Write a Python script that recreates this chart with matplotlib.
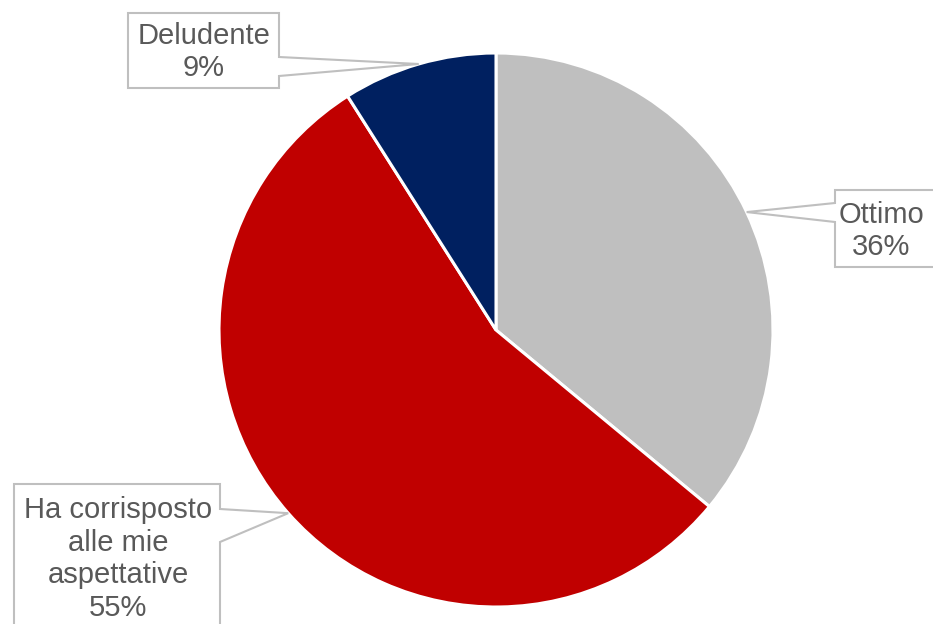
import numpy as np
import matplotlib
matplotlib.use("Agg")
import matplotlib.pyplot as plt
from matplotlib.patches import Polygon

labels = ["Ottimo", "Ha corrisposto\nalle mie\naspettative", "Deludente"]
values = [36, 55, 9]
colors = ["#BFBFBF", "#C00000", "#002060"]

W, H = 933, 624
fig = plt.figure(figsize=(W / 100, H / 100), dpi=100)
ax = fig.add_axes([0, 0, 1, 1])

cx, cy, R = 496, H - 330, 277
wedges, _ = ax.pie(values, colors=colors, startangle=90, counterclock=False,
                   center=(cx, cy), radius=R,
                   wedgeprops=dict(edgecolor="white", linewidth=2.2))
ax.set_xlim(0, W)
ax.set_ylim(0, H)
ax.set_aspect("equal")
ax.axis("off")

# callout layout (pixel coords, y from top): box (l, t, r, b), side, pointer span, text center
layout = [
    dict(box=(835, 190, 960, 267), side="left", span=(203, 222), text=(881, 231)),
    dict(box=(14, 484, 220, 660), side="right", span=(509, 542), text=(118, 559)),
    dict(box=(128, 13, 279, 88), side="right", span=(57, 76), text=(204, 52)),
]

def Y(py):
    return H - py

for w, v, lab, L in zip(wedges, values, labels, layout):
    ang = np.deg2rad((w.theta1 + w.theta2) / 2)
    tip = (cx + R * np.cos(ang), cy + R * np.sin(ang))
    l, t, r, b = L["box"]
    s0, s1 = L["span"]
    if L["side"] == "right":
        pts = [(l, Y(t)), (r, Y(t)), (r, Y(s0)), tip, (r, Y(s1)), (r, Y(b)), (l, Y(b))]
    else:
        pts = [(l, Y(t)), (r, Y(t)), (r, Y(b)), (l, Y(b)), (l, Y(s1)), tip, (l, Y(s0))]
    ax.add_patch(Polygon(pts, closed=True, facecolor="white", edgecolor="#BFBFBF",
                         linewidth=1.5, zorder=5, clip_on=False))
    tx, ty = L["text"]
    ax.text(tx, Y(ty), f"{lab}\n{v}%", ha="center", va="center", fontsize=21,
            family="Liberation Sans", color="#595959", linespacing=1.2, zorder=6)

fig.savefig("out.png", dpi=100)
